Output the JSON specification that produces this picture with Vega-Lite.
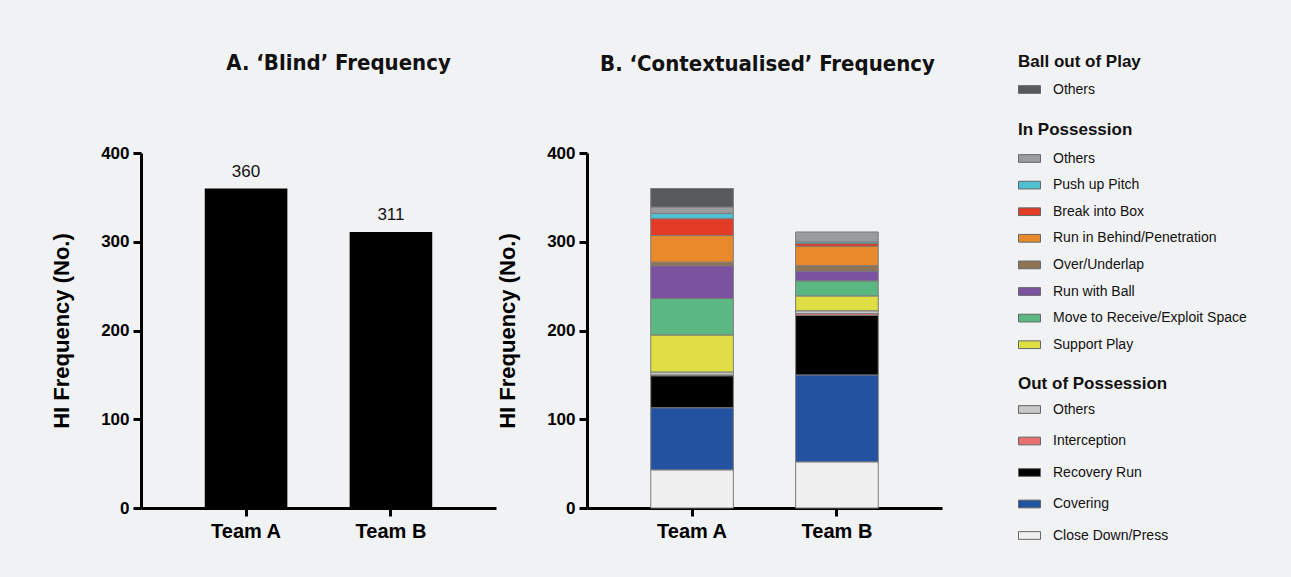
{
  "$schema": "https://vega.github.io/schema/vega-lite/v6.json",
  "background": "#f1f2f3",
  "padding": {"left": 50, "top": 52, "right": 44, "bottom": 34},
  "spacing": 0,
  "datasets": {
    "hi": [
      {"team": "Team A", "group": "Out of Possession", "category": "Close Down/Press", "value": 43},
      {"team": "Team A", "group": "Out of Possession", "category": "Covering", "value": 70},
      {"team": "Team A", "group": "Out of Possession", "category": "Recovery Run", "value": 36},
      {"team": "Team A", "group": "Out of Possession", "category": "Interception", "value": 1},
      {"team": "Team A", "group": "Out of Possession", "category": "Others", "value": 3},
      {"team": "Team A", "group": "In Possession", "category": "Support Play", "value": 42},
      {"team": "Team A", "group": "In Possession", "category": "Move to Receive/Exploit Space", "value": 41},
      {"team": "Team A", "group": "In Possession", "category": "Run with Ball", "value": 37},
      {"team": "Team A", "group": "In Possession", "category": "Over/Underlap", "value": 4},
      {"team": "Team A", "group": "In Possession", "category": "Run in Behind/Penetration", "value": 30},
      {"team": "Team A", "group": "In Possession", "category": "Break into Box", "value": 19},
      {"team": "Team A", "group": "In Possession", "category": "Push up Pitch", "value": 6},
      {"team": "Team A", "group": "In Possession", "category": "Others", "value": 7},
      {"team": "Team A", "group": "Ball out of Play", "category": "Others", "value": 21},
      {"team": "Team B", "group": "Out of Possession", "category": "Close Down/Press", "value": 52},
      {"team": "Team B", "group": "Out of Possession", "category": "Covering", "value": 98},
      {"team": "Team B", "group": "Out of Possession", "category": "Recovery Run", "value": 67},
      {"team": "Team B", "group": "Out of Possession", "category": "Interception", "value": 2},
      {"team": "Team B", "group": "Out of Possession", "category": "Others", "value": 3},
      {"team": "Team B", "group": "In Possession", "category": "Support Play", "value": 17},
      {"team": "Team B", "group": "In Possession", "category": "Move to Receive/Exploit Space", "value": 17},
      {"team": "Team B", "group": "In Possession", "category": "Run with Ball", "value": 11},
      {"team": "Team B", "group": "In Possession", "category": "Over/Underlap", "value": 6},
      {"team": "Team B", "group": "In Possession", "category": "Run in Behind/Penetration", "value": 22},
      {"team": "Team B", "group": "In Possession", "category": "Break into Box", "value": 3},
      {"team": "Team B", "group": "In Possession", "category": "Push up Pitch", "value": 2},
      {"team": "Team B", "group": "In Possession", "category": "Others", "value": 11}
    ]
  },
  "data": {"name": "hi"},
  "hconcat": [
    {
      "width": 355,
      "height": 355,
      "title": {"text": "A. ‘Blind’ Frequency", "dx": 20, "offset": 69},
      "encoding": {
        "x": {"field": "team", "type": "nominal", "scale": {"paddingInner": 0.43, "paddingOuter": 0.44}, "axis": {"title": null}},
        "y": {"aggregate": "sum", "field": "value", "type": "quantitative", "scale": {"domain": [0, 400], "nice": false}, "axis": {"title": "HI Frequency (No.)", "values": [0, 100, 200, 300, 400]}}
      },
      "layer": [
        {"mark": {"type": "bar", "color": "#000000"}},
        {"mark": {"type": "text", "baseline": "bottom", "dy": -8, "font": "Liberation Sans", "fontSize": 17, "color": "#111111"},
         "encoding": {"text": {"aggregate": "sum", "field": "value", "type": "quantitative"}}}
      ]
    },
    {
      "width": 355,
      "height": 355,
      "title": {"text": "B. ‘Contextualised’ Frequency", "dx": 3, "offset": -22},
      "transform": [
        {"stack": "value", "groupby": ["team"], "as": ["y0", "y1"]}
      ],
      "encoding": {
        "x": {"field": "team", "type": "nominal", "scale": {"paddingInner": 0.43, "paddingOuter": 0.44}, "axis": {"title": null}},
        "y": {"field": "y0", "type": "quantitative", "scale": {"domain": [0, 400], "nice": false}, "axis": {"title": "HI Frequency (No.)", "values": [0, 100, 200, 300, 400]}},
        "y2": {"field": "y1"}
      },
      "layer": [
        {
          "transform": [{"filter": "datum.group === 'Ball out of Play'"}],
          "mark": {"type": "bar", "stroke": "#7a7a7a", "strokeWidth": 1},
          "encoding": {
            "color": {"field": "category", "type": "nominal",
              "scale": {"domain": ["Others"], "range": ["#58595b"]},
              "legend": {"title": "Ball out of Play", "orient": "none", "legendX": 431, "legendY": -99}}
          }
        },
        {
          "transform": [{"filter": "datum.group === 'In Possession'"}],
          "mark": {"type": "bar", "stroke": "#7a7a7a", "strokeWidth": 1},
          "encoding": {
            "color": {"field": "category", "type": "nominal",
              "scale": {"domain": ["Others", "Push up Pitch", "Break into Box", "Run in Behind/Penetration", "Over/Underlap", "Run with Ball", "Move to Receive/Exploit Space", "Support Play"],
                        "range": ["#9b9c9e", "#4fc1d3", "#e23b26", "#e8892b", "#8f7355", "#7a52a0", "#5bb883", "#dfdf45"]},
              "legend": {"title": "In Possession", "orient": "none", "legendX": 431, "legendY": -31, "rowPadding": 7.6, "titlePadding": 8}}
          }
        },
        {
          "transform": [{"filter": "datum.group === 'Out of Possession'"}],
          "mark": {"type": "bar", "stroke": "#7a7a7a", "strokeWidth": 1},
          "encoding": {
            "color": {"field": "category", "type": "nominal",
              "scale": {"domain": ["Others", "Interception", "Recovery Run", "Covering", "Close Down/Press"],
                        "range": ["#c8c8c8", "#e8706e", "#000000", "#2352a0", "#f0f0f0"]},
              "legend": {"title": "Out of Possession", "orient": "none", "legendX": 431, "legendY": 223, "rowPadding": 12.5, "titlePadding": 5}}
          }
        }
      ],
      "resolve": {"scale": {"color": "independent"}}
    }
  ],
  "config": {
    "view": {"stroke": null},
    "title": {"font": "Liberation Sans Narrow, DejaVu Sans Condensed, Roboto", "fontSize": 22, "fontWeight": "bold", "color": "#111111", "anchor": "middle"},
    "axis": {"domainColor": "#000000", "domainWidth": 3, "tickColor": "#000000", "tickWidth": 3, "tickSize": 8, "labelFont": "Liberation Sans", "labelFontWeight": "bold", "labelColor": "#000000", "titleFont": "Liberation Sans", "titleFontWeight": "bold", "titleColor": "#000000", "grid": false},
    "axisY": {"labelFontSize": 17, "titleFontSize": 22, "titlePadding": 27, "labelPadding": 4},
    "axisX": {"labelFontSize": 20, "labelAngle": 0, "labelPadding": 5},
    "legend": {"direction": "vertical", "titleFont": "Liberation Sans", "titleFontSize": 17, "titleFontWeight": "bold", "titleColor": "#111111", "titlePadding": 7, "labelFont": "Liberation Sans", "labelFontSize": 14, "labelColor": "#111111", "labelOffset": 12, "labelLimit": 300, "symbolType": "M-1,-0.35H1V0.35H-1Z", "symbolSize": 484, "symbolStrokeColor": "#666666", "symbolStrokeWidth": 1, "symbolOpacity": 1}
  }
}
